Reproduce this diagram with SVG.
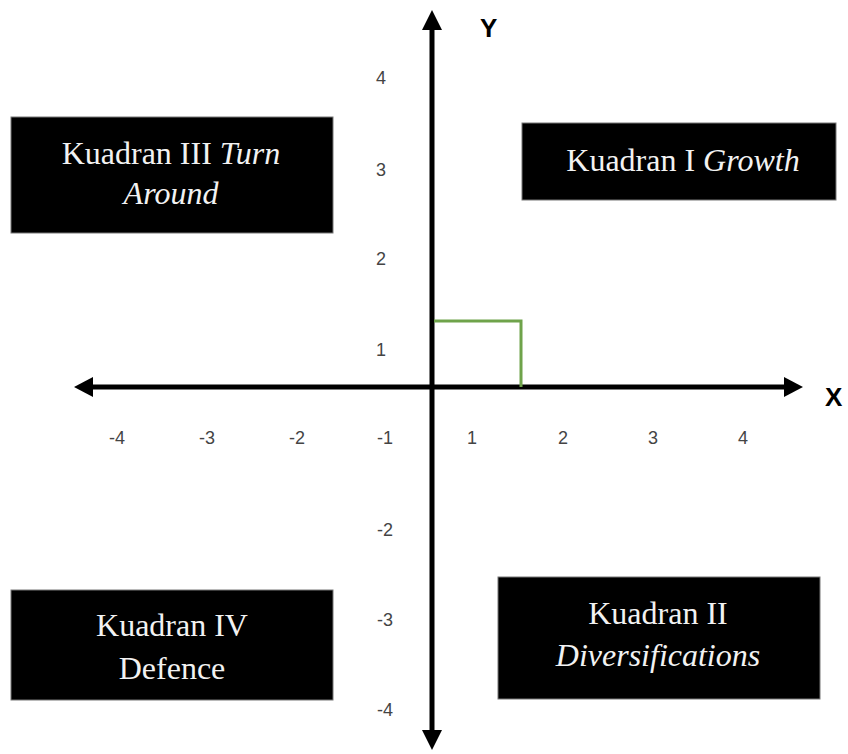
<svg xmlns="http://www.w3.org/2000/svg" width="848" height="754" viewBox="0 0 848 754">
<style>
.box{fill:#000;stroke:#777;stroke-width:1}
.bt{font-family:"Liberation Serif",serif;font-size:32px;fill:#f2f2f2;text-anchor:middle}
.it{font-style:italic}
.tick{font-family:"Liberation Sans",sans-serif;font-size:18px;fill:#444;text-anchor:middle;dominant-baseline:central}
.ax{font-family:"Liberation Sans",sans-serif;font-size:26px;font-weight:bold;fill:#000}
.axis{stroke:#000;stroke-width:5;fill:none}
</style>
<rect width="848" height="754" fill="#fff"/>
<g id="connectors">
<line class="axis" x1="88" y1="387" x2="790" y2="387"/>
<polygon points="74,387 93,377 93,397" fill="#000"/>
<polygon points="803,387 784,377 784,397" fill="#000"/>
<line class="axis" x1="432" y1="25" x2="432" y2="736"/>
<polygon points="432,10 422,30 442,30" fill="#000"/>
<polygon points="432,750 422,730 442,730" fill="#000"/>
<polyline points="434,321 521,321 521,387" fill="none" stroke="#6fa34b" stroke-width="3"/>
</g>
<g id="axis-labels">
<text class="ax" x="480" y="37">Y</text>
<text class="ax" x="825" y="406">X</text>
</g>
<g id="ticks">
<text class="tick" x="381" y="78">4</text>
<text class="tick" x="381" y="170">3</text>
<text class="tick" x="381" y="259">2</text>
<text class="tick" x="381" y="350">1</text>
<text class="tick" x="385" y="530">-2</text>
<text class="tick" x="385" y="620">-3</text>
<text class="tick" x="385" y="710">-4</text>
<text class="tick" x="117" y="438">-4</text>
<text class="tick" x="207" y="438">-3</text>
<text class="tick" x="297" y="438">-2</text>
<text class="tick" x="385" y="438">-1</text>
<text class="tick" x="472" y="438">1</text>
<text class="tick" x="563" y="438">2</text>
<text class="tick" x="653" y="438">3</text>
<text class="tick" x="743" y="438">4</text>
</g>
<g id="q3">
<rect class="box" x="11" y="117" width="322" height="116"/>
<text class="bt" x="171" y="164">Kuadran III <tspan class="it">Turn</tspan></text>
<text class="bt it" x="171" y="204">Around</text>
</g>
<g id="q1">
<rect class="box" x="522" y="123" width="314" height="77"/>
<text class="bt" x="683" y="171">Kuadran I <tspan class="it">Growth</tspan></text>
</g>
<g id="q4">
<rect class="box" x="11" y="590" width="322" height="110"/>
<text class="bt" x="172" y="636">Kuadran IV</text>
<text class="bt" x="172" y="679">Defence</text>
</g>
<g id="q2">
<rect class="box" x="498" y="577" width="322" height="122"/>
<text class="bt" x="658" y="624">Kuadran II</text>
<text class="bt it" x="658" y="666">Diversifications</text>
</g>
</svg>
